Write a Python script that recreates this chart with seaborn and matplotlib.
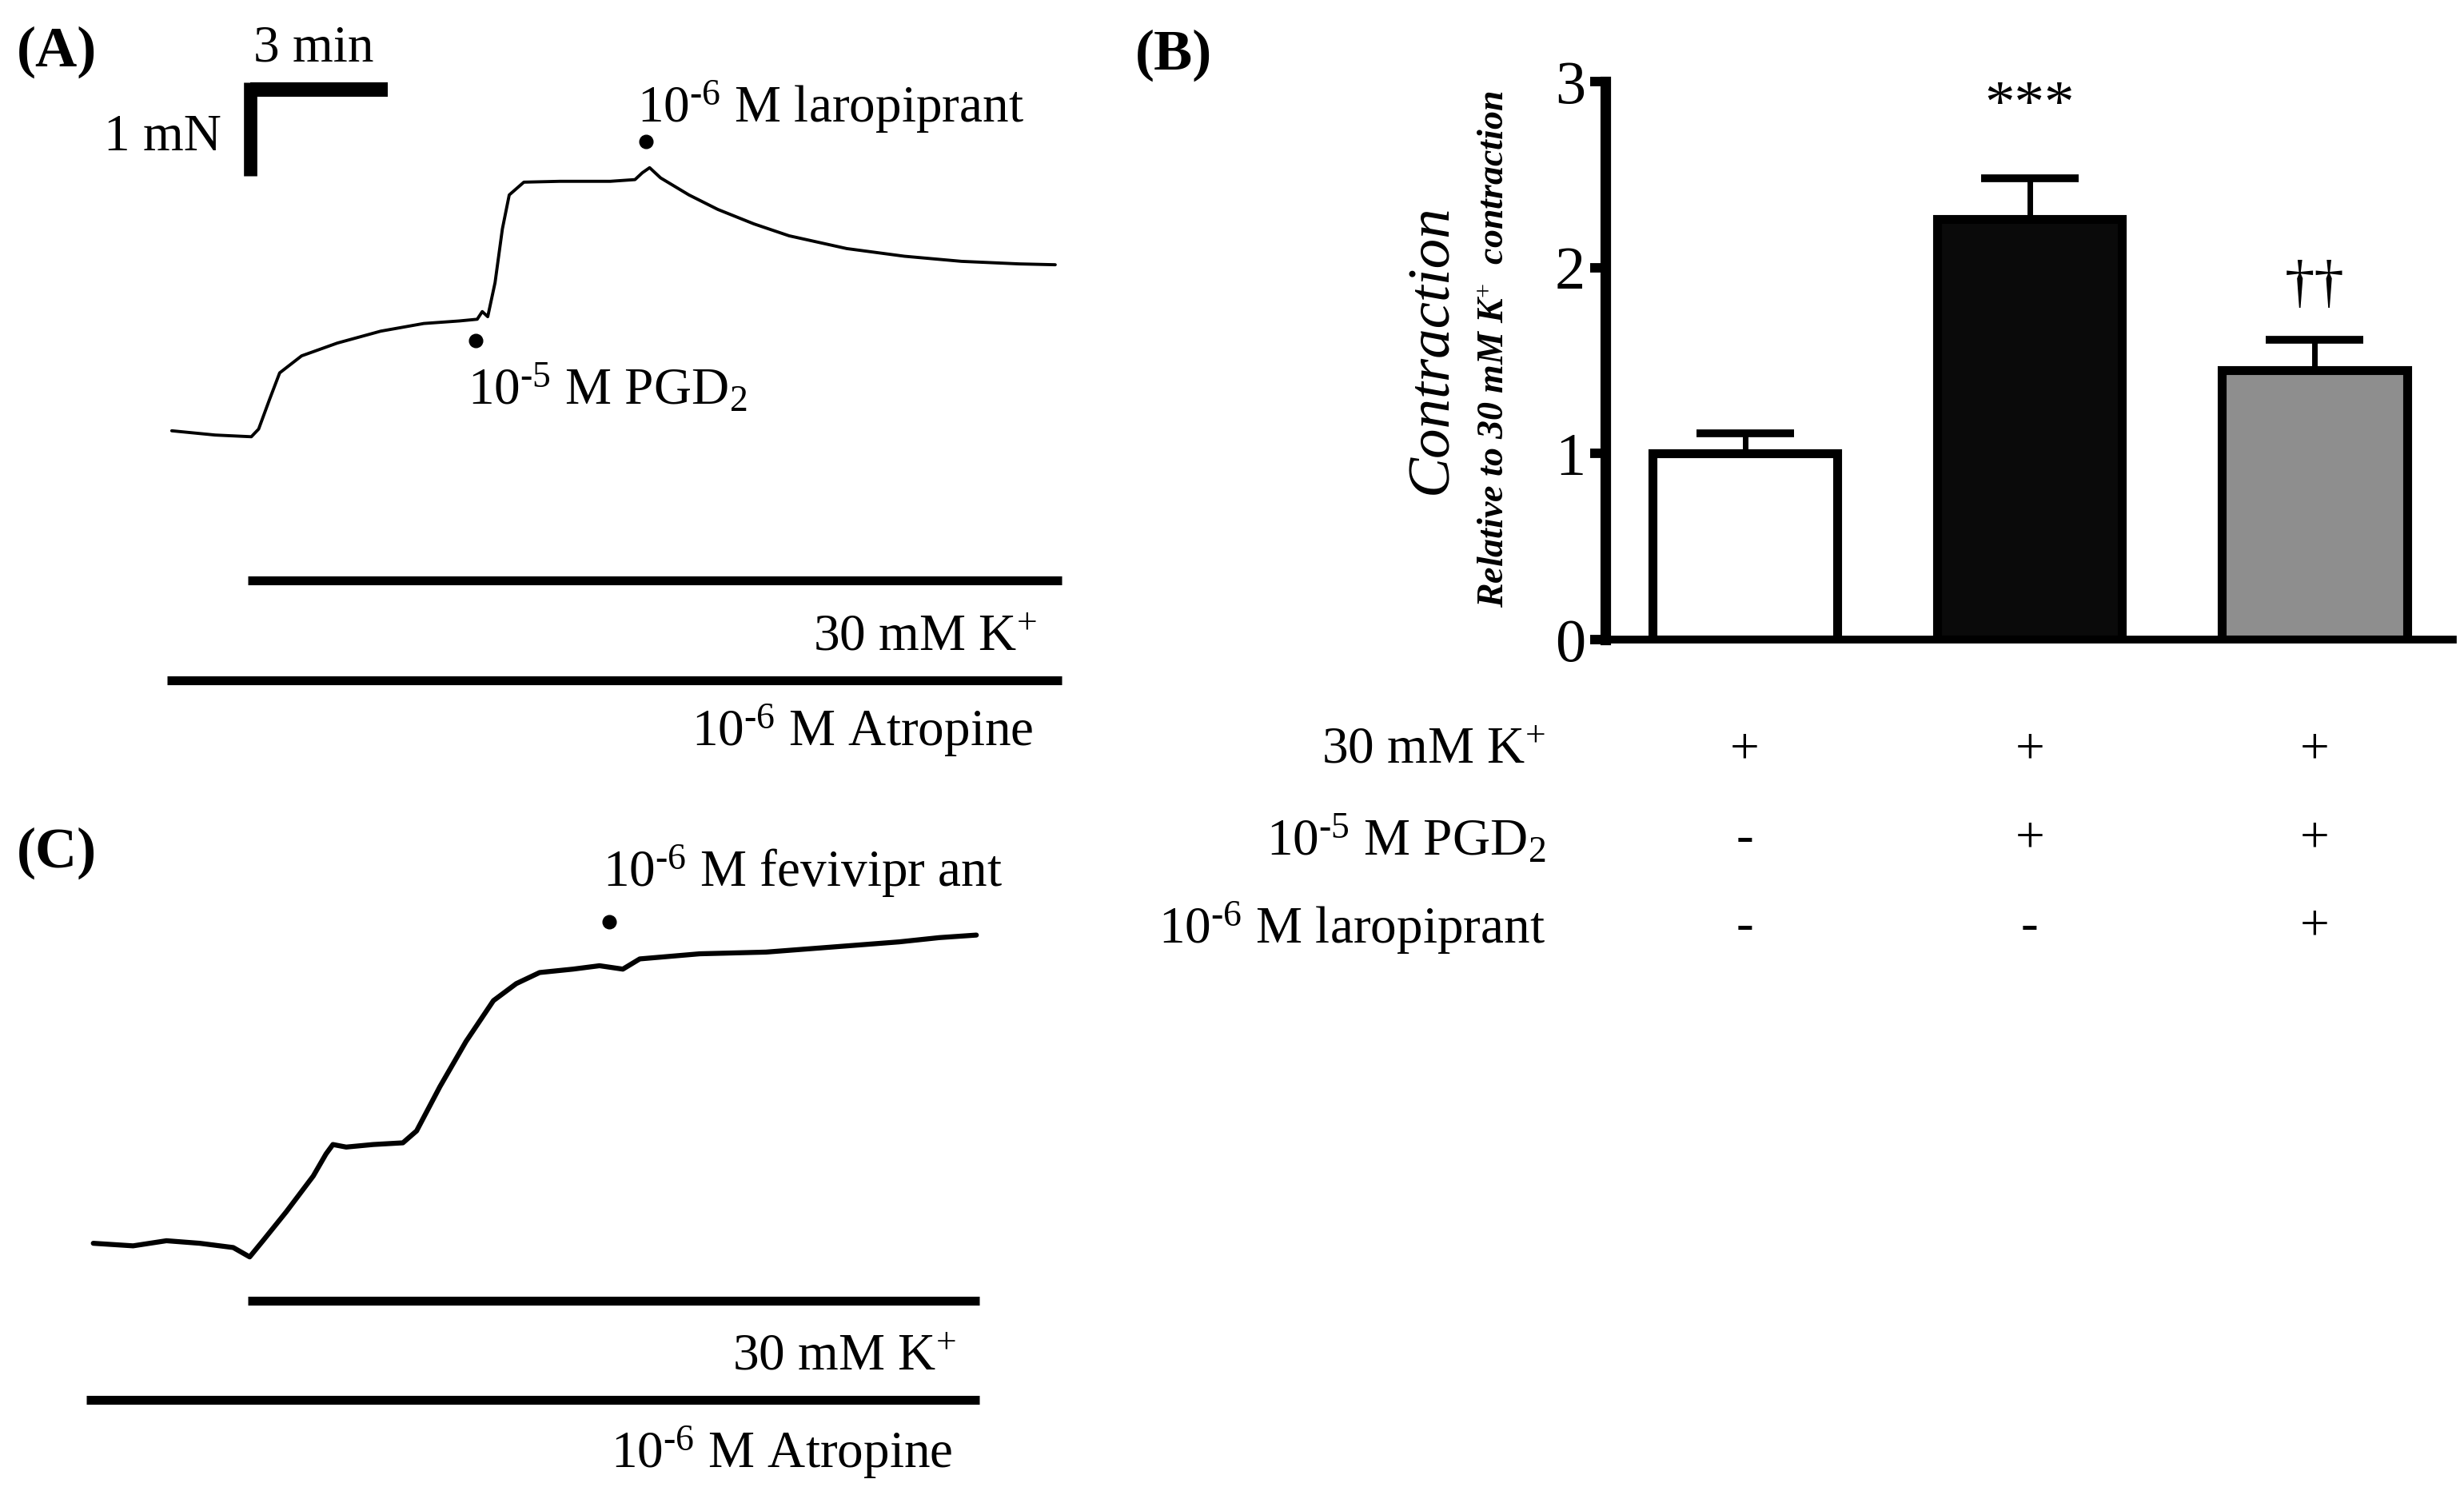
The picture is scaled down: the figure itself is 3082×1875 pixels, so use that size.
import matplotlib
matplotlib.use('Agg')
import matplotlib.pyplot as plt
import seaborn as sns

# ---- data ----
# (A) isometric tension trace, time in min, force in mN (relative to baseline)
trace_a_time = [0.03, 0.98, 1.77, 1.93, 2.17, 2.39, 2.87, 3.65, 4.60, 5.54, 6.32, 6.71, 6.82, 6.94,
                7.10, 7.26, 7.41, 7.73, 8.52, 9.62, 10.16, 10.32, 10.48, 10.72, 11.34, 11.97, 12.76,
                13.53, 14.79, 16.05, 17.30, 18.56, 19.35]
trace_a_force = [-0.02, -0.07, -0.09, 0.0, 0.35, 0.66, 0.86, 1.01, 1.15, 1.24, 1.27, 1.29, 1.38, 1.32,
                 1.72, 2.35, 2.75, 2.90, 2.91, 2.91, 2.93, 3.01, 3.07, 2.95, 2.75, 2.58, 2.41,
                 2.27, 2.12, 2.03, 1.97, 1.94, 1.93]

# (C) trace
trace_c_time = [0.04, 0.91, 1.64, 2.37, 3.10, 3.46, 3.75, 4.26, 4.85, 5.13, 5.28, 5.57, 6.16, 6.81,
                7.11, 7.62, 8.19, 8.79, 9.29, 9.80, 10.53, 11.11, 11.62, 11.99, 13.30, 14.75, 16.21,
                17.66, 18.54, 19.35]
trace_c_force = [0.07, 0.04, 0.10, 0.07, 0.02, -0.09, 0.10, 0.44, 0.86, 1.12, 1.23, 1.20, 1.23, 1.25,
                 1.39, 1.91, 2.44, 2.92, 3.12, 3.25, 3.29, 3.33, 3.29, 3.41, 3.47, 3.49, 3.55,
                 3.61, 3.66, 3.69]

# (B) bar chart
groups = ['K', 'K+PGD2', 'K+PGD2+laro']
means = [1.00, 2.26, 1.45]
sems = [0.11, 0.22, 0.16]
bar_colors = ['white', '#0a0a0a', '#8e8e8e']
sig_marks = ['', '***', '\u2020\u2020']
sig_levels = [0, 2.86, 1.90]
row_labels = ['30 mM K$^{+}$', r'10$^{\text{-5}}$ M PGD$_2$', r'10$^{\text{-6}}$ M laropiprant']
table_signs = [['+', '+', '+'],
               ['-', '+', '+'],
               ['-', '-', '+']]

# ---- style ----
sns.set_style('white')
plt.rcParams['font.family'] = ['Liberation Serif', 'DejaVu Serif']
plt.rcParams['mathtext.fontset'] = 'custom'
plt.rcParams['mathtext.rm'] = 'Liberation Serif'
plt.rcParams['mathtext.it'] = 'Liberation Serif:italic'
plt.rcParams['mathtext.bf'] = 'Liberation Serif:bold'
for key in ['text.color', 'axes.labelcolor', 'axes.edgecolor', 'xtick.color', 'ytick.color']:
    plt.rcParams[key] = 'black'

W, H = 3082, 1875
fig = plt.figure(figsize=(W / 100, H / 100), dpi=100)
FS = 47

PX_MIN = 57.2    # pixels per minute in the traces
PX_MN = 106.5    # pixels per mN


def trace_axes(x0, y0, x1, y1, t0_px, f0_px):
    # axes covering pixel box (x0,y0)-(x1,y1), time 0 at t0_px, force 0 at f0_px
    ax = fig.add_axes([x0 / W, 1 - y1 / H, (x1 - x0) / W, (y1 - y0) / H])
    ax.set_xlim((x0 - t0_px) / PX_MIN, (x1 - t0_px) / PX_MIN)
    ax.set_ylim((f0_px - y1) / PX_MN, (f0_px - y0) / PX_MN)
    ax.axis('off')
    return ax


# ---- panel A ----
axA = trace_axes(0, 0, 1400, 960, 213.1, 536.7)
sns.lineplot(x=trace_a_time, y=trace_a_force, ax=axA, color='black', linewidth=2.8,
             estimator=None, sort=False)
# scale bar
axA.plot([1.75, 4.75], [3.99, 3.99], color='black', lw=13, solid_capstyle='butt')
axA.plot([1.75, 1.75], [4.07, 2.97], color='black', lw=12, solid_capstyle='butt')
axA.text(3.14, 4.47, '3 min', fontsize=FS, ha='center', va='center')
axA.text(1.12, 3.42, '1 mN', fontsize=FS, ha='right', va='center')
# drug additions
axA.plot([6.68], [1.04], 'o', color='black', ms=12)
axA.text(6.50, 0.47, r'10$^{\text{-5}}$ M PGD$_2$', fontsize=FS, ha='left', va='center')
axA.plot([10.40], [3.38], 'o', color='black', ms=12)
axA.text(10.20, 3.79, r'10$^{\text{-6}}$ M laropiprant', fontsize=FS, ha='left', va='center')
# condition bars
axA.plot([1.69, 19.5], [-1.78, -1.78], color='black', lw=8, solid_capstyle='butt')
axA.text(18.95, -2.45, '30 mM K$^{+}$', fontsize=FS, ha='right', va='center')
axA.plot([-0.07, 19.5], [-2.95, -2.95], color='black', lw=8, solid_capstyle='butt')
axA.text(18.88, -3.54, r'10$^{\text{-6}}$ M Atropine', fontsize=FS, ha='right', va='center')

# ---- panel C ----
axC = trace_axes(0, 980, 1400, 1875, 114.4, 1562.6)
sns.lineplot(x=trace_c_time, y=trace_c_force, ax=axC, color='black', linewidth=4.5,
             estimator=None, sort=False)
axC.plot([11.32], [3.85], 'o', color='black', ms=12)
axC.text(11.18, 4.44, r'10$^{\text{-6}}$ M fevivipr ant', fontsize=FS, ha='left', va='center')
axC.plot([3.42, 19.42], [-0.60, -0.60], color='black', lw=8, solid_capstyle='butt')
axC.text(18.91, -1.27, '30 mM K$^{+}$', fontsize=FS, ha='right', va='center')
axC.plot([-0.11, 19.42], [-1.77, -1.77], color='black', lw=8, solid_capstyle='butt')
axC.text(18.84, -2.38, r'10$^{\text{-6}}$ M Atropine', fontsize=FS, ha='right', va='center')

# ---- panel B ----
axB = fig.add_axes([2008 / W, 1 - 800 / H, 1060 / W, 698 / H])
sns.barplot(x=groups, y=means, hue=groups, palette=bar_colors, legend=False, ax=axB,
            width=0.65, edgecolor='black', linewidth=8, errorbar=None, zorder=2)
axB.errorbar(x=range(len(means)), y=means, yerr=[[0] * len(sems), sems], fmt='none',
             ecolor='black', elinewidth=5, capsize=44, capthick=7, zorder=3)
for i, (mark, lvl) in enumerate(zip(sig_marks, sig_levels)):
    if mark:
        axB.text(i, lvl, mark, fontsize=54, ha='center', va='center')

axB.set_xlim(-0.49, 2.486)
axB.set_ylim(0, 3)
axB.set_yticks([0, 1, 2, 3])
axB.set_yticklabels(['0', '1', '2', '3'], fontsize=55)
axB.set_xticks([])
axB.set_xlabel('')
axB.set_ylabel('')
sns.despine(ax=axB)
axB.spines['left'].set_linewidth(9.5)
axB.spines['bottom'].set_linewidth(7)
axB.tick_params(axis='y', direction='out', length=14, width=8.5, pad=4, left=True)

axB.text(-0.204, 0.52, 'Contraction', transform=axB.transAxes, fontsize=54,
         style='italic', rotation=90, ha='center', va='center')
axB.text(-0.130, 0.52, 'Relative to 30 mM K$^{+}$  contraction', transform=axB.transAxes,
         fontsize=33, style='italic', fontweight='bold', rotation=90, ha='center', va='center')

# treatment table under the bars
row_y = [-0.199, -0.358, -0.516]
for r, (label, yy) in enumerate(zip(row_labels, row_y)):
    axB.text(-0.70, yy, label, transform=axB.get_xaxis_transform(), fontsize=FS,
             ha='right', va='center', clip_on=False)
    for c, sign in enumerate(table_signs[r]):
        axB.text(c, yy, sign, transform=axB.get_xaxis_transform(), fontsize=FS,
                 ha='center', va='center', clip_on=False)

# panel letters
fig.text(21 / W, 1 - 65 / H, '(A)', fontsize=52, fontweight='bold', va='center')
fig.text(1420 / W, 1 - 69 / H, '(B)', fontsize=52, fontweight='bold', va='center')
fig.text(21 / W, 1 - 1067 / H, '(C)', fontsize=52, fontweight='bold', va='center')

fig.savefig('out.png', dpi=100, facecolor='white')
